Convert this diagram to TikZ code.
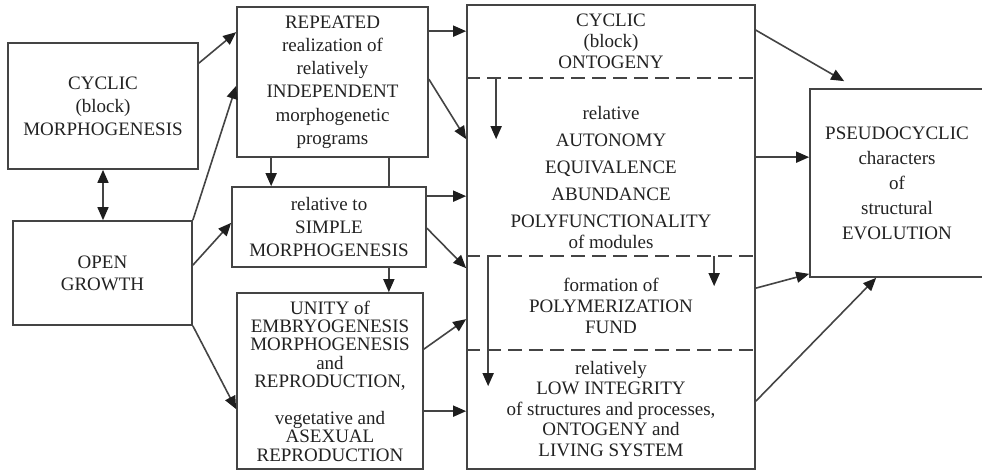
\documentclass[tikz,border=0pt]{standalone}
\usepackage{fontspec}
\setmainfont{Liberation Serif}
\usetikzlibrary{arrows.meta}
\definecolor{linec}{HTML}{444444}
\definecolor{tipc}{HTML}{1E1E1E}
\definecolor{txtc}{HTML}{222222}
\begin{document}
\begin{tikzpicture}[x=1pt,y=-1pt,
  boxn/.style={draw=linec, line width=1.7pt, inner sep=0pt, align=center, text=txtc},
  txtn/.style={inner sep=0pt, align=center, text=txtc},
  fs/.style={font=\fontsize{19}{#1}\selectfont},
  tip/.style={Triangle[length=13pt,width=11pt,color=tipc]},
  arr/.style={draw=linec, line width=1.6pt, -{Triangle[length=13pt,width=11pt,color=tipc]}},
  darr/.style={draw=linec, line width=1.6pt, {Triangle[length=13pt,width=11pt,color=tipc]}-{Triangle[length=13pt,width=11pt,color=tipc]}},
  ln/.style={draw=linec, line width=1.6pt},
  dln/.style={draw=linec, line width=2pt, dash pattern=on 14pt off 7pt}]
\useasboundingbox (0,0) rectangle (982,472);
\fill[white] (0,0) rectangle (982,472);

% boxes
\node[boxn, fs=23, minimum width=190pt, minimum height=126pt] (cm) at (103,106) {CYCLIC\\(block)\\MORPHOGENESIS};
\node[boxn, fs=23.2, minimum width=191pt, minimum height=150pt] (rep) at (332.5,82) {REPEATED\\realization of\\relatively\\INDEPENDENT\\morphogenetic\\programs};
\node[boxn, fs=23, minimum width=194pt, minimum height=80pt] (sim) at (329,227) {relative to\\SIMPLE\\MORPHOGENESIS};
\node[boxn, fs=22, minimum width=179pt, minimum height=104pt] (og) at (102.5,273) {OPEN\\GROWTH};
\node[boxn, fs=18.4, minimum width=186pt, minimum height=176pt] (un) at (330,381) {UNITY of\\EMBRYOGENESIS\\MORPHOGENESIS\\and\\REPRODUCTION,\\[18.4pt]vegetative and\\ASEXUAL\\REPRODUCTION};
\node[boxn, minimum width=288pt, minimum height=464pt] (big) at (611,237) {};
\node[boxn, fs=25, minimum width=174pt, minimum height=188pt] (ps) at (897,183) {PSEUDOCYCLIC\\characters\\of\\structural\\EVOLUTION};

% texts inside the big box
\node[txtn, fs=21] (t1) at (611,41) {CYCLIC\\(block)\\ONTOGENY};
\node[txtn, fs=21] (t2) at (611,177) {relative\\[6pt]AUTONOMY\\[6pt]EQUIVALENCE\\[6pt]ABUNDANCE\\[6pt]POLYFUNCTIONALITY\\of modules};
\node[txtn, fs=21] (t3) at (611,306) {formation of\\POLYMERIZATION\\FUND};
\node[txtn, fs=20.5] (t4) at (611,409) {relatively\\LOW INTEGRITY\\of structures and processes,\\ONTOGENY and\\LIVING SYSTEM};

% dashed separators
\coordinate (d1) at ([yshift=-74pt]big.north west);
\coordinate (d2) at ([yshift=-252pt]big.north west);
\coordinate (d3) at ([yshift=-346pt]big.north west);
\draw[dln] (d1) -- (d1 -| big.east);
\draw[dln] (d2) -- (d2 -| big.east);
\draw[dln] (d3) -- (d3 -| big.east);

% inner arrows
\coordinate (i1) at ([xshift=30pt]d1);
\coordinate (i2) at ([xshift=248pt]d2);
\coordinate (i3) at ([xshift=22pt]d2);
\draw[arr] (i1) -- ([yshift=-61pt]i1);
\draw[arr] (i2) -- ([yshift=-30pt]i2);
\draw[arr] (i3) -- ([yshift=-130pt]i3);

% left part connectors
\draw[arr] ([yshift=-21pt]cm.north east) -- ([yshift=-26pt]rep.north west);
\draw[darr] (cm.south) -- (cm.south |- og.north);
\draw[arr] (og.north east) -- ([yshift=72pt]rep.south west);
\draw[arr] ([yshift=-45pt]og.north east) -- ([yshift=45pt]sim.south west);
\draw[arr] (og.south east) -- ([yshift=-117pt]un.north west);

\coordinate (r1) at ([xshift=35pt]rep.south west);
\coordinate (r2) at ([xshift=-40pt]rep.south east);
\coordinate (s1) at ([xshift=-38pt]sim.south east);
\draw[arr] (r1) -- (r1 |- sim.north);
\draw[ln] (r2) -- (r2 |- sim.north);
\draw[arr] (s1) -- (s1 |- un.north);

% into the big box
\coordinate (a1) at ([yshift=-25pt]rep.north east);
\coordinate (a2) at ([yshift=-10pt]sim.north east);
\coordinate (a3) at ([yshift=-119pt]un.north east);
\draw[arr] (a1) -- (a1 -| big.west);
\draw[arr] ([yshift=-73pt]rep.north east) -- ([yshift=-135pt]big.north west);
\draw[arr] (a2) -- (a2 -| big.west);
\draw[arr] ([yshift=-42pt]sim.north east) -- ([yshift=-264pt]big.north west);
\draw[arr] ([yshift=-57pt]un.north east) -- ([yshift=-315pt]big.north west);
\draw[arr] (a3) -- (a3 -| big.west);

% to the PSEUDOCYCLIC box
\coordinate (b1) at ([yshift=-153pt]big.north east);
\draw[arr] ([yshift=-26pt]big.north east) -- ([xshift=35pt,yshift=7pt]ps.north west);
\draw[arr] (b1) -- (b1 -| ps.west);
\draw[arr] ([yshift=-284pt]big.north east) -- ([yshift=4pt]ps.south west);
\draw[arr] ([yshift=-397pt]big.north east) -- ([xshift=67pt]ps.south west);
\end{tikzpicture}
\end{document}
